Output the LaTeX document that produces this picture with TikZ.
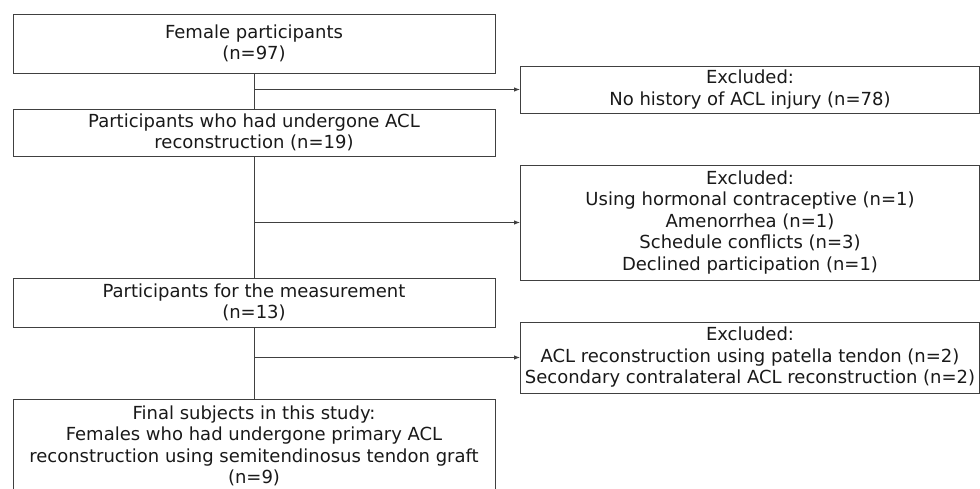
\documentclass[tikz,border=0pt]{standalone}
\usepackage{fontspec}
\setmainfont{DejaVu Sans}
\usepackage{xcolor}
\usepackage{tikz}
\usetikzlibrary{arrows.meta, positioning}

\begin{document}
\begin{tikzpicture}[x=1pt, y=-1pt,
  box/.style={draw=black!75, line width=0.9pt, rectangle, align=center,
    inner sep=0pt, font=\fontsize{18}{21.5}\selectfont, text=black!90},
  mainbox/.style={box, minimum width=482pt},
  exclbox/.style={box, minimum width=459pt},
  link/.style={draw=black!75, line width=0.9pt}]
  \useasboundingbox (0,0) rectangle (980,488);
  % main column
  \node[mainbox, minimum height=59pt] (female) at (254,43.5) {Female participants\\(n=97)};
  \node[mainbox, minimum height=47pt] (acl) at (254,132.5) {Participants who had undergone ACL\\reconstruction (n=19)};
  \node[mainbox, minimum height=49pt] (meas) at (254,302.5) {Participants for the measurement\\(n=13)};
  \node[mainbox, minimum height=94pt] (final) at (254,446) {Final subjects in this study:\\Females who had undergone primary ACL\\reconstruction using semitendinosus tendon graft\\(n=9)};
  % exclusions
  \node[exclbox, minimum height=47pt] (excl1) at (750,89.5) {Excluded:\\No history of ACL injury (n=78)};
  \node[exclbox, minimum height=115pt] (excl2) at (750,222.5) {Excluded:\\Using hormonal contraceptive (n=1)\\Amenorrhea (n=1)\\Schedule conflicts (n=3)\\Declined participation (n=1)};
  \node[exclbox, minimum height=71pt] (excl3) at (750,357.5) {Excluded:\\ACL reconstruction using patella tendon (n=2)\\Secondary contralateral ACL reconstruction (n=2)};

  \draw[link] (female) -- (acl);
  \draw[link] (acl) -- (meas);
  \draw[link] (meas) -- (final);
  \draw[link, -{Latex[length=6pt, width=4.5pt]}] (female.south |- excl1.west) -- (excl1.west);
  \draw[link, -{Latex[length=6pt, width=4.5pt]}] (acl.south |- excl2.west) -- (excl2.west);
  \draw[link, -{Latex[length=6pt, width=4.5pt]}] (meas.south |- excl3.west) -- (excl3.west);
\end{tikzpicture}
\end{document}
